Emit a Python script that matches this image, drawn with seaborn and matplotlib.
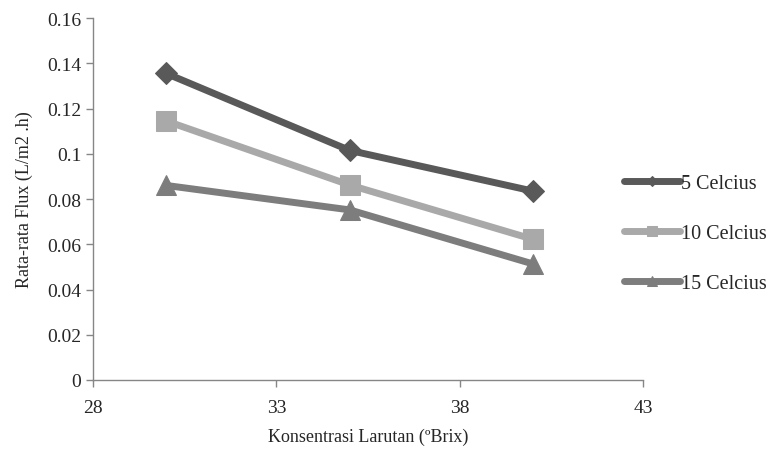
import seaborn as sns
import matplotlib.pyplot as plt
import pandas as pd

# data
konsentrasi = [30, 35, 40]
flux_5 = [0.1355, 0.1015, 0.0835]
flux_10 = [0.1145, 0.0862, 0.0622]
flux_15 = [0.0860, 0.0752, 0.0513]
series_names = ['5 Celcius', '10 Celcius', '15 Celcius']

df = pd.DataFrame({
    'x': konsentrasi * 3,
    'y': flux_5 + flux_10 + flux_15,
    'Suhu': [n for n in series_names for _ in konsentrasi],
})

sns.set_style("white")
plt.rcParams['font.family'] = ['Liberation Serif', 'DejaVu Serif']

fig = plt.figure(figsize=(7.71, 4.77), dpi=100)
ax = fig.add_axes([0.1206, 0.2013, 0.7134, 0.7587])

palette = {'5 Celcius': '#595959', '10 Celcius': '#a9a9a9', '15 Celcius': '#7d7d7d'}
markers = {'5 Celcius': 'D', '10 Celcius': 's', '15 Celcius': '^'}
sizes = {'5 Celcius': 11, '10 Celcius': 15, '15 Celcius': 15}

for name in series_names:
    sub = df[df['Suhu'] == name]
    sns.lineplot(data=sub, x='x', y='y', ax=ax, color=palette[name],
                 marker=markers[name], markersize=sizes[name],
                 markeredgecolor=palette[name], linewidth=5, label=name)

ax.set_xlim(28, 43)
ax.set_ylim(0, 0.16)
ax.set_xticks([28, 33, 38, 43])
ax.set_yticks([0, 0.02, 0.04, 0.06, 0.08, 0.1, 0.12, 0.14, 0.16])
ax.set_yticklabels(['0', '0.02', '0.04', '0.06', '0.08', '0.1', '0.12', '0.14', '0.16'])
ax.tick_params(axis='both', labelsize=14, color='#868686', length=5, width=1,
               direction='out', left=True, bottom=True)
ax.tick_params(axis='x', pad=9)

for side in ['top', 'right']:
    ax.spines[side].set_visible(False)
for side in ['left', 'bottom']:
    ax.spines[side].set_color('#868686')
    ax.spines[side].set_linewidth(1)

ax.set_xlabel('Konsentrasi Larutan (\u00baBrix)', fontsize=13, labelpad=8)
ax.set_ylabel('Rata-rata Flux (L/m2 .h)', fontsize=13, labelpad=10)

leg = ax.legend(loc='center left', bbox_to_anchor=(0.95, 0.405), frameon=False,
                fontsize=14.5, handlelength=2.8, labelspacing=1.55, handletextpad=0.05,
                markerscale=0.5, borderaxespad=0)

plt.savefig('out.png', dpi=100)
